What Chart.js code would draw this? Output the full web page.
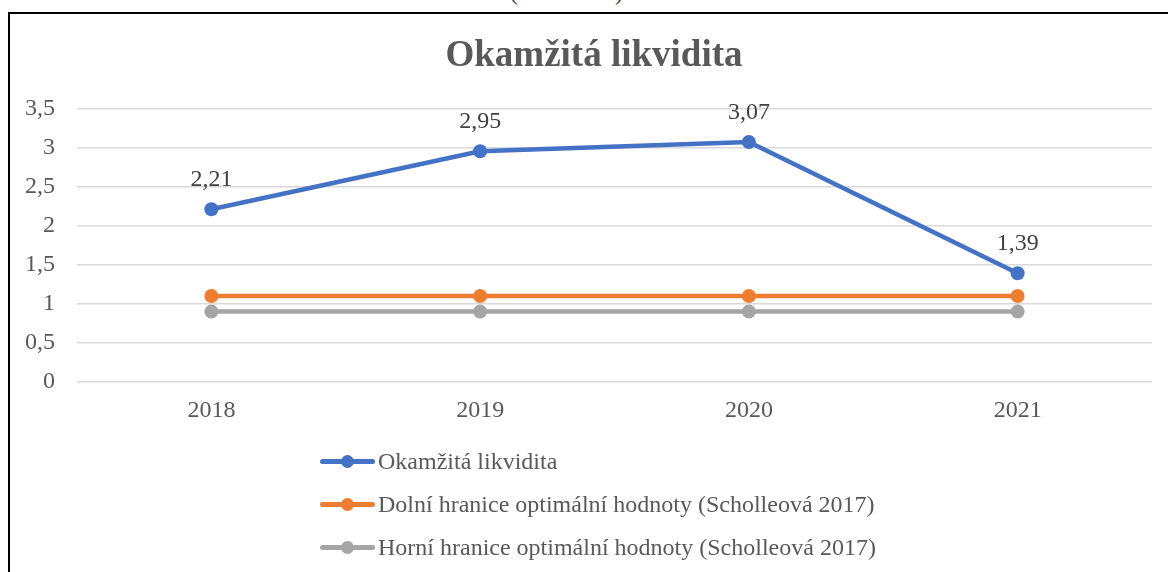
<!DOCTYPE html>
<html><head><meta charset="utf-8">
<script src="https://cdn.jsdelivr.net/npm/chart.js@4"></script>
<style>
html,body{margin:0;padding:0;background:#fff;overflow:hidden;width:1168px;height:572px;}
#frame{position:absolute;left:8px;top:12px;width:1200px;height:600px;border-top:2px solid #000;border-left:2px solid #000;box-sizing:border-box;}
#cap{position:absolute;top:-20px;left:510px;font:24px 'Liberation Serif';color:#404040;white-space:nowrap;line-height:24px;}
#cap span{display:inline-block;width:97px;}
canvas{position:absolute;left:0;top:0;}
#legend{position:absolute;left:0;top:0;width:1168px;height:572px;}
.li{position:absolute;left:320px;height:30px;display:flex;align-items:center;font:24px 'Liberation Serif';color:#595959;white-space:nowrap;}
.mk{position:relative;width:55px;height:5px;border-radius:3px;margin-right:3px;flex:none;}
.mk i{position:absolute;left:21px;top:-4px;width:13px;height:13px;border-radius:50%;}
</style></head>
<body>
<div id="cap">(<span></span>)</div>
<div id="frame"></div>
<canvas id="c" width="1168" height="572"></canvas>
<div id="legend"></div>
<script>
const categories = ['2018', '2019', '2020', '2021'];
const okamzitaLikvidita = [2.21, 2.95, 3.07, 1.39];
const dolniHranice = [1.1, 1.1, 1.1, 1.1];
const horniHranice = [0.9, 0.9, 0.9, 0.9];
const seriesNames = [
  'Okamžitá likvidita',
  'Dolní hranice optimální hodnoty (Scholleová 2017)',
  'Horní hranice optimální hodnoty (Scholleová 2017)'
];
const seriesColors = ['#4472C4', '#ED7D31', '#A5A5A5'];
const yMin = 0, yMax = 3.5, yStep = 0.5;
const chartTitle = 'Okamžitá likvidita';

const fmt = v => String(v).replace('.', ',');
const fmt2 = v => v.toFixed(2).replace('.', ',');

const valueLabels = {
  id: 'valueLabels',
  afterDatasetsDraw(chart) {
    const ctx = chart.ctx;
    const meta = chart.getDatasetMeta(0);
    ctx.save();
    ctx.font = "24px 'Liberation Serif'";
    ctx.fillStyle = '#404040';
    ctx.textAlign = 'center';
    ctx.textBaseline = 'alphabetic';
    meta.data.forEach((pt, i) => {
      ctx.fillText(fmt2(okamzitaLikvidita[i]), pt.x, pt.y - 23);
    });
    ctx.restore();
  }
};

const titlePlugin = {
  id: 'framedTitle',
  afterDraw(chart) {
    const ctx = chart.ctx;
    ctx.save();
    ctx.font = "bold 37px 'Liberation Serif'";
    ctx.fillStyle = '#595959';
    ctx.textAlign = 'center';
    ctx.textBaseline = 'alphabetic';
    ctx.fillText(chartTitle, 594, 66);
    ctx.restore();
  }
};

function ds(label, data, color) {
  return {
    label, data,
    borderColor: color, backgroundColor: color,
    pointBackgroundColor: color, pointBorderColor: color,
    borderWidth: 4.5, pointRadius: 7, pointBorderWidth: 0, pointHoverRadius: 7,
    borderCapStyle: 'round', borderJoinStyle: 'round', tension: 0, fill: false
  };
}

const chart = new Chart(document.getElementById('c'), {
  type: 'line',
  data: {
    labels: categories,
    datasets: [
      ds(seriesNames[0], okamzitaLikvidita, seriesColors[0]),
      ds(seriesNames[1], dolniHranice, seriesColors[1]),
      ds(seriesNames[2], horniHranice, seriesColors[2])
    ]
  },
  options: {
    responsive: false,
    animation: false,
    devicePixelRatio: 1,
    layout: { padding: { left: 0, right: 16, top: 108.3, bottom: 150 } },
    plugins: {
      legend: { display: false },
      tooltip: { enabled: false },
      title: { display: false }
    },
    scales: {
      x: {
        offset: true,
        grid: { display: false, drawTicks: false },
        border: { display: false },
        ticks: { color: '#595959', padding: 14, font: { family: "'Liberation Serif'", size: 24, lineHeight: 1.2 }, maxRotation: 0 },
        afterFit(s) { s.height = 40; }
      },
      y: {
        min: yMin, max: yMax,
        grid: { color: '#d9d9d9', lineWidth: 1.5, drawTicks: false },
        border: { display: false },
        ticks: { stepSize: yStep, color: '#595959', padding: 22, font: { family: "'Liberation Serif'", size: 24, lineHeight: 1.2 }, callback: v => fmt(v) },
        afterFit(s) { s.width = 77; }
      }
    }
  },
  plugins: [valueLabels, titlePlugin]
});

// legend built from the chart's datasets
const legendRows = [461, 504, 547];
const leg = document.getElementById('legend');
chart.data.datasets.forEach((d, i) => {
  const row = document.createElement('div');
  row.className = 'li';
  row.style.top = (legendRows[i] - 15) + 'px';
  const mk = document.createElement('span');
  mk.className = 'mk';
  mk.style.background = d.borderColor;
  const dot = document.createElement('i');
  dot.style.background = d.borderColor;
  mk.appendChild(dot);
  row.appendChild(mk);
  row.appendChild(document.createTextNode(d.label));
  leg.appendChild(row);
});
</script>
</body></html>
